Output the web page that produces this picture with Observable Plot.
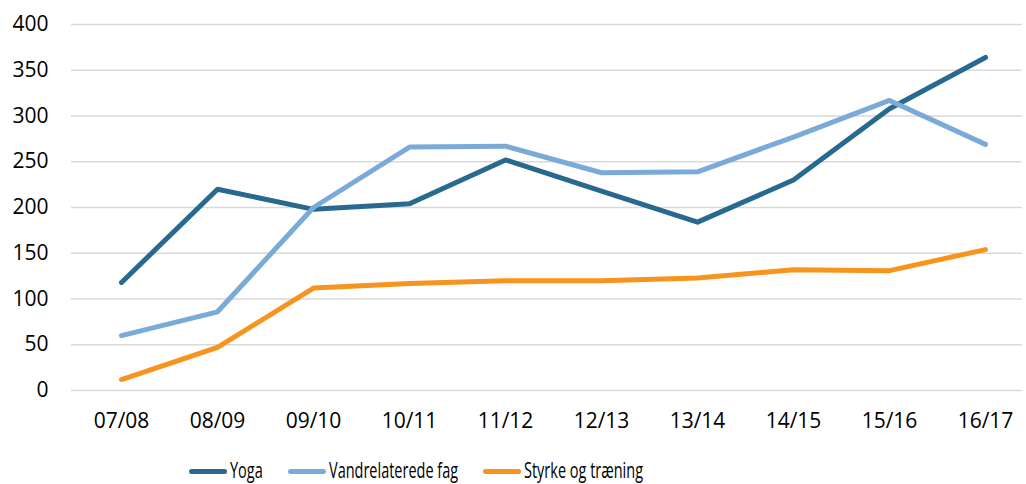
<!DOCTYPE html>
<html><head><meta charset="utf-8">
<script src="https://cdn.jsdelivr.net/npm/d3@7"></script>
<script src="https://cdn.jsdelivr.net/npm/@observablehq/plot@0.6"></script>
<style>
body{margin:0;background:#fff;overflow:hidden;}
#legend{display:flex;align-items:center;height:28px;margin-top:6px;margin-left:189px;font-family:'Open Sans';font-size:21px;color:#000;white-space:nowrap;line-height:28px;}
.item{display:flex;align-items:center;margin-right:25px;}
.sw{width:38px;height:5px;border-radius:3px;margin-right:3px;margin-top:3px;}
.txt{display:inline-block;transform:scaleX(0.69);transform-origin:left center;}
</style></head><body><div id="chart"></div><div id="legend"></div>
<script>
const seasons = ["07/08","08/09","09/10","10/11","11/12","12/13","13/14","14/15","15/16","16/17"];
const yoga = [118,220,198,204,252,218,184,230,308,364];
const vandrelaterede = [60,86,200,266,267,238,239,277,317,269];
const styrke = [12,47,112,117,120,120,123,132,131,154];
const seriesNames = ["Yoga","Vandrelaterede fag","Styrke og træning"];
const colors = ["#28698f","#7aaad8","#f7941d"];
const yTicks = [0,50,100,150,200,250,300,350,400];

const seriesValues = [yoga, vandrelaterede, styrke];
const data = seriesNames.flatMap((name, k) => seasons.map((s, i) => ({season: s, series: name, value: seriesValues[k][i]})));

const chart = Plot.plot({
  width: 1026, height: 450,
  marginLeft: 71, marginRight: 4, marginTop: 24, marginBottom: 60,
  style: {fontFamily: "'Open Sans'", fontSize: "21px", color: "#000", background: "#fff", overflow: "visible"},
  x: {type: "point", domain: seasons, padding: 0, insetLeft: 48, insetRight: 35, label: null},
  y: {domain: [0, 400], label: null},
  color: {domain: seriesNames, range: colors},
  marks: [
    Plot.gridY(yTicks, {stroke: "#d9d9d9", strokeOpacity: 1, strokeWidth: 1.5}),
    Plot.axisY(yTicks, {tickSize: 0, tickPadding: 23, fontSize: 21, label: null}),
    Plot.axisX({tickSize: 0, tickPadding: 23, fontSize: 21, label: null}),
    Plot.line(data, {x: "season", y: "value", z: "series", stroke: "series", strokeWidth: 5, strokeLinecap: "round", strokeLinejoin: "round"})
  ]
});
document.getElementById("chart").appendChild(chart);

const legend = document.getElementById("legend");
seriesNames.forEach((name, k) => {
  const item = document.createElement("div");
  item.className = "item";
  const sw = document.createElement("span");
  sw.className = "sw";
  sw.style.background = colors[k];
  const t = document.createElement("span");
  t.className = "txt";
  t.textContent = name;
  item.appendChild(sw); item.appendChild(t);
  legend.appendChild(item);
  const w = t.offsetWidth;
  t.style.marginRight = (-(w * 0.31)) + "px";
});
</script></body></html>
